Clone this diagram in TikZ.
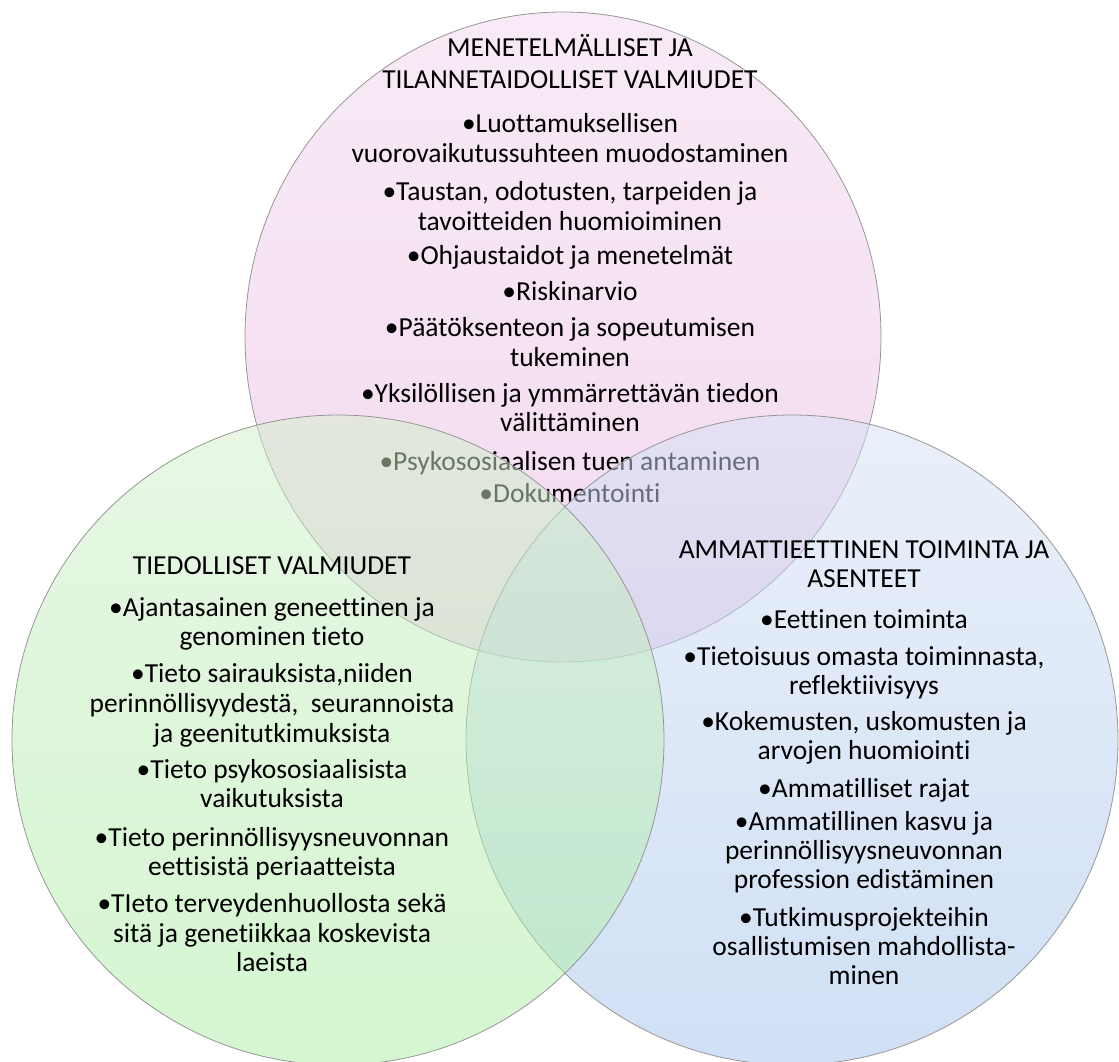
\documentclass[tikz,border=0pt]{standalone}
\usepackage{fontspec}
\setmainfont{Carlito}[Ligatures={NoCommon}]

% fill colours of the three sets (drawn at half opacity)
\definecolor{pinkTop}{RGB}{241,214,237}
\definecolor{pinkBot}{RGB}{233,181,225}
\definecolor{greenTop}{RGB}{209,239,203}
\definecolor{greenBot}{RGB}{169,237,161}
\definecolor{blueTop}{RGB}{213,225,245}
\definecolor{blueBot}{RGB}{161,193,235}
\definecolor{vennline}{RGB}{150,150,150}

\begin{document}
\begin{tikzpicture}[x=1pt,y=-1pt,
  venn/.style={draw=vennline, line width=0.8pt, fill opacity=0.5},
  lbl/.style={inner sep=0pt, anchor=base, text=black,
              font=\fontsize{27.5}{30}\selectfont}]
\useasboundingbox (0,0) rectangle (1119,1062);
\clip (0,0) rectangle (1119,1062);

% methods and situational skills
\path[venn, top color=pinkTop, bottom color=pinkBot]
  (563,337) ellipse [x radius=318, y radius=325];
\foreach \y/\t [count=\i] in {
  57/{MENETELMÄLLISET JA},
  89/{TILANNETAIDOLLISET VALMIUDET},
  133/{•Luottamuksellisen},
  163/{vuorovaikutussuhteen muodostaminen},
  200/{•Taustan, odotusten, tarpeiden ja},
  230/{tavoitteiden huomioiminen},
  264/{•Ohjaustaidot ja menetelmät},
  300/{•Riskinarvio},
  336/{•Päätöksenteon ja sopeutumisen},
  366/{tukeminen},
  402/{•Yksilöllisen ja ymmärrettävän tiedon},
  431/{välittäminen},
  470/{•Psykososiaalisen tuen antaminen},
  502/{•Dokumentointi}}
  \node[lbl] (pink\i) at (570,\y) {\t};

% professional ethics and attitudes
\path[venn, top color=blueTop, bottom color=blueBot]
  (792,740) ellipse [x radius=326, y radius=325];
\foreach \y/\t [count=\i] in {
  558/{AMMATTIEETTINEN TOIMINTA JA},
  587/{ASENTEET},
  628/{•Eettinen toiminta},
  665/{•Tietoisuus omasta toiminnasta,},
  694/{reflektiivisyys},
  730/{•Kokemusten, uskomusten ja},
  759/{arvojen huomiointi},
  797/{•Ammatilliset rajat},
  830/{•Ammatillinen kasvu ja},
  859/{perinnöllisyysneuvonnan},
  888/{profession edistäminen},
  926/{•Tutkimusprojekteihin},
  955/{osallistumisen mahdollista-},
  984/{minen}}
  \node[lbl] (blue\i) at (864,\y) {\t};

% knowledge
\path[venn, top color=greenTop, bottom color=greenBot]
  (338,740) ellipse [x radius=326, y radius=325];
\foreach \y/\t [count=\i] in {
  574/{TIEDOLLISET VALMIUDET},
  616/{•Ajantasainen geneettinen ja},
  645/{genominen tieto},
  682/{•Tieto sairauksista,niiden},
  712/{perinnöllisyydestä,~ seurannoista},
  742/{ja geenitutkimuksista},
  778/{•Tieto psykososiaalisista},
  807/{vaikutuksista},
  846/{•Tieto perinnöllisyysneuvonnan},
  875/{eettisistä periaatteista},
  912/{•TIeto terveydenhuollosta sekä},
  942/{sitä ja genetiikkaa koskevista},
  971/{laeista}}
  \node[lbl] (green\i) at (272,\y) {\t};
\end{tikzpicture}
\end{document}
